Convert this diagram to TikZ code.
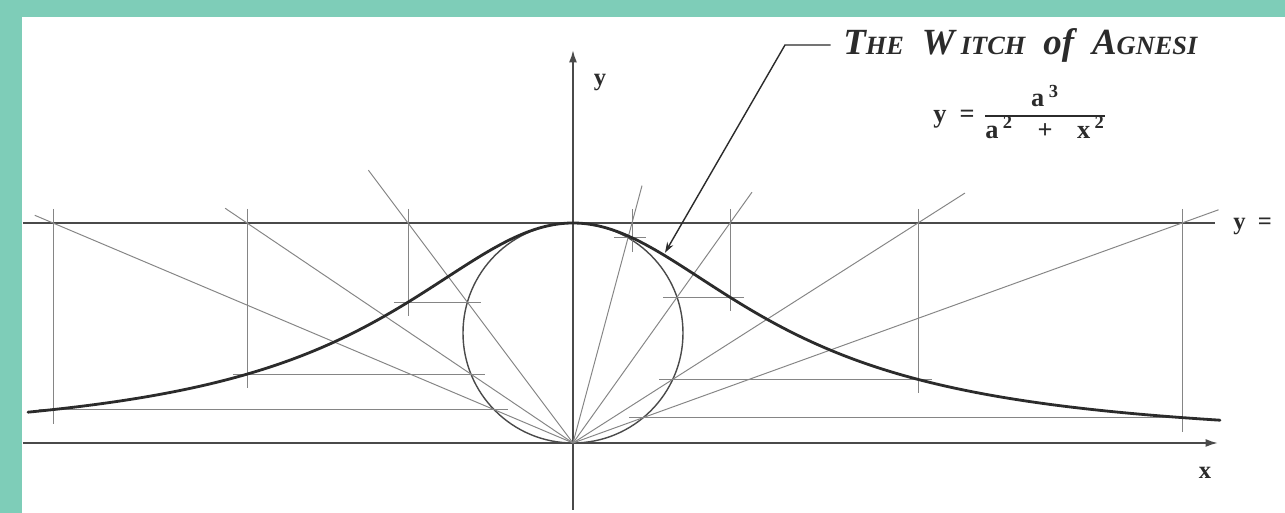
\documentclass[tikz,border=0pt]{standalone}
\usepackage{fontspec}
\setmainfont{Liberation Serif}
\usetikzlibrary{arrows.meta}
\definecolor{witchteal}{HTML}{7ECDB8}
\definecolor{witchink}{HTML}{2B2B2B}
\definecolor{witchline}{HTML}{4A4A4A}
\definecolor{witchgrid}{HTML}{858585}
\newcommand{\witchsc}[1]{{\fontsize{15}{17}\selectfont #1}}
\setlength{\arrayrulewidth}{.8pt}

\begin{document}
\begin{tikzpicture}[x=.02cm,y=.02cm,
    axisline/.style={witchline,line width=1.1pt,-{Latex[length=7pt,width=4.5pt]}},
    guide/.style={witchgrid,line width=.55pt},
    axislabel/.style={font=\fontsize{14}{16}\selectfont\bfseries,text=witchink,inner sep=0pt}]
    \path[use as bounding box] (-573,-70) rectangle (712,443);

    % Teal frame round the white sheet.
    \fill[witchteal] (-573,-70) rectangle (712,443);
    \fill[white] (-551,-70) rectangle (712,426);

    \def\a{220}
    \coordinate (O) at (0,0);

    % Axes, the line y = a and the generating circle.
    \draw[axisline] (-550,0) -- (645,0);
    \draw[axisline] (0,-67) -- (0,393);
    \draw[witchline,line width=1pt] (-550,\a) -- (642,\a);
    \draw[witchline,line width=.8pt] (0,\a/2) circle (\a/2);

    % Rays from the origin, with the vertical and horizontal that fix a point of the curve.
    \foreach \xa/\k in {-520/1.035,-326/1.067,-165/1.24,59/1.17,157/1.14,345/1.136,609/1.06}{
      \pgfmathsetmacro\c{\xa/\a}
      \pgfmathsetmacro\yp{\a/(1+\c*\c)}
      \pgfmathsetmacro\xn{\a*\c/(1+\c*\c)}
      \pgfmathsetmacro\s{sign(\xa)}
      \pgfmathsetmacro\ex{\k*\xa}
      \pgfmathsetmacro\ey{\k*\a}
      \pgfmathsetmacro\hs{\xa+14*\s}
      \pgfmathsetmacro\he{\xn-14*\s}
      \draw[guide] (O) -- (\ex,\ey);
      \draw[guide] (\xa,\a+14) -- (\xa,\yp-14);
      \draw[guide] (\hs,\yp) -- (\he,\yp);
    }

    % The witch itself.
    \draw[witchink,line width=1.6pt,line cap=round]
      plot[domain=-545:647,samples=160,variable=\t,smooth] (\t,{\a/(1+(\t/\a)*(\t/\a))});

    \node[axislabel] (ylab) at (27,360) {y};
    \node[axislabel] (xlab) at (632,-30) {x};
    \node[axislabel,anchor=west] (ytop) at (660,217) {y\ \ =};

    % Title with its leader down to the curve.
    \node[anchor=west,inner sep=0pt,text=witchink,
      font=\fontsize{21}{24}\selectfont\bfseries\itshape] (title) at (270,398)
      {T\witchsc{HE}\hspace{5pt} W\,\witchsc{ITCH}\hspace{5pt} of\hspace{5pt} A\witchsc{GNESI}};
    \coordinate (elbow) at (212,398);
    \coordinate (tip) at (92,{\a/(1+(92/\a)*(92/\a))+3});
    \draw[witchink,line width=.8pt,-{Stealth[length=6pt,width=4pt]}]
      ([xshift=-7pt]title.west) -- (elbow) -- (tip);

    \node[axislabel,anchor=west,font=\fontsize{15}{17}\selectfont\bfseries] (law) at (360,327)
      {y\ \ =\hspace{6pt}\begin{tabular}{@{}c@{}}a\,\textsuperscript{3}\\\hline
       a\,\textsuperscript{2}\hspace{14pt}+\hspace{14pt}x\,\textsuperscript{2}\end{tabular}};
  \end{tikzpicture}
\end{document}
